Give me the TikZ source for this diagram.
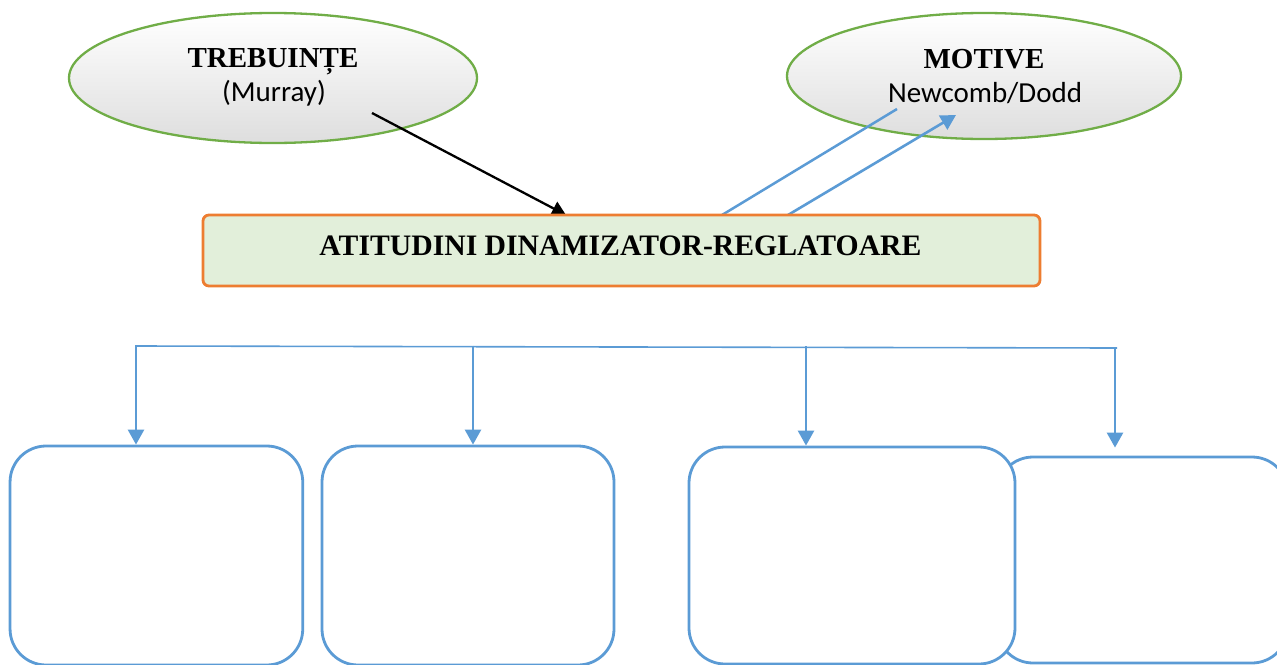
\documentclass[tikz,border=0pt]{standalone}
\usepackage{fontspec}
\setmainfont{Liberation Serif}
\newfontfamily\calfont{Carlito}
\usetikzlibrary{arrows.meta,shapes.geometric,calc}
\definecolor{ellgreen}{HTML}{70AD47}
\definecolor{orng}{HTML}{ED7D31}
\definecolor{lgreen}{HTML}{E2EFDA}
\definecolor{blu}{HTML}{5B9BD5}
\tikzset{
  ell/.style={ellipse, draw=ellgreen, line width=2.3pt, top color=white, middle color=white, bottom color=black!13, inner sep=0pt},
  bold/.style={font=\fontsize{29}{34}\selectfont\bfseries, anchor=base, inner sep=0pt},
  sub/.style={font=\fontsize{29}{34}\selectfont\calfont, anchor=base, inner sep=0pt},
  bbox/.style={draw=blu, line width=2.8pt, rounded corners=36pt, fill=white, inner sep=0pt},
  blk/.style={black, line width=2.3pt, -{Triangle[length=14pt,width=15pt]}},
  bl/.style={blu, line width=2.5pt},
  blarr/.style={blu, line width=2.6pt, -{Triangle[length=15pt,width=16pt]}}
}
\begin{document}
\begin{tikzpicture}[x=1pt,y=-1pt]
\useasboundingbox (0,0) rectangle (1277,664);
\clip (0,0) rectangle (1277,664);
% ellipses
\node[ell, minimum width=408pt, minimum height=130pt] (trb) at (273,78) {};
\node[bold] (trbT) at (273,67) {TREBUINȚE};
\node[sub] (trbS) at (274,101) {(Murray)};
\node[ell, minimum width=394pt, minimum height=126pt] (mot) at (984,76) {};
\node[bold] (motT) at (984,68) {MOTIVE};
\node[sub] (motS) at (985,102) {Newcomb/Dodd};
% connectors to/from main rectangle
\coordinate (a1) at (372,113);
\coordinate (a2) at (566,215);
\coordinate (m1) at (897,109);
\coordinate (m2) at (722,215);
\coordinate (r1) at (788,215);
\coordinate (r2) at (956,115);
\draw[blk] (a1) -- (a2);
\draw[bl] (m1) -- (m2);
\draw[blarr] (r1) -- (r2);
% main rectangle
\node[draw=orng, fill=lgreen, line width=2.8pt, rounded corners=6pt, minimum width=837pt, minimum height=71pt, inner sep=0pt] (atit) at (621.5,250.5) {};
\node[bold, font=\fontsize{29.7}{34}\selectfont\bfseries] (atitT) at (620.5,255) {ATITUDINI DINAMIZATOR-REGLATOARE};
% bottom boxes
\node[bbox, minimum width=292.7pt, minimum height=219pt] (box1) at (156.4,555.5) {};
\node[bbox, minimum width=292pt, minimum height=219pt] (box2) at (468,555.5) {};
\node[bbox, minimum width=291pt, minimum height=206pt] (box4) at (1142.5,560) {};
\node[bbox, minimum width=326pt, minimum height=217pt] (box3) at (852,555.5) {};
% bus
\coordinate (b1) at (135,346);
\coordinate (b2) at (473,346.6);
\coordinate (b3) at (806,347.3);
\coordinate (b4) at (1117,348);
\draw[blu, line width=1.6pt] (b1) -- (b4);
\draw[blarr] ([yshift=1pt]b1 -| 136,0) -- (136,0 |- box1.north);
\draw[blarr] ([yshift=1pt]b2) -- (b2 |- box2.north);
\draw[blarr] ([yshift=1pt]b3) -- (b3 |- box3.north);
\draw[blarr] ([yshift=1pt]1115,348) -- ([yshift=8pt]1115,0 |- box4.north);
\end{tikzpicture}
\end{document}
